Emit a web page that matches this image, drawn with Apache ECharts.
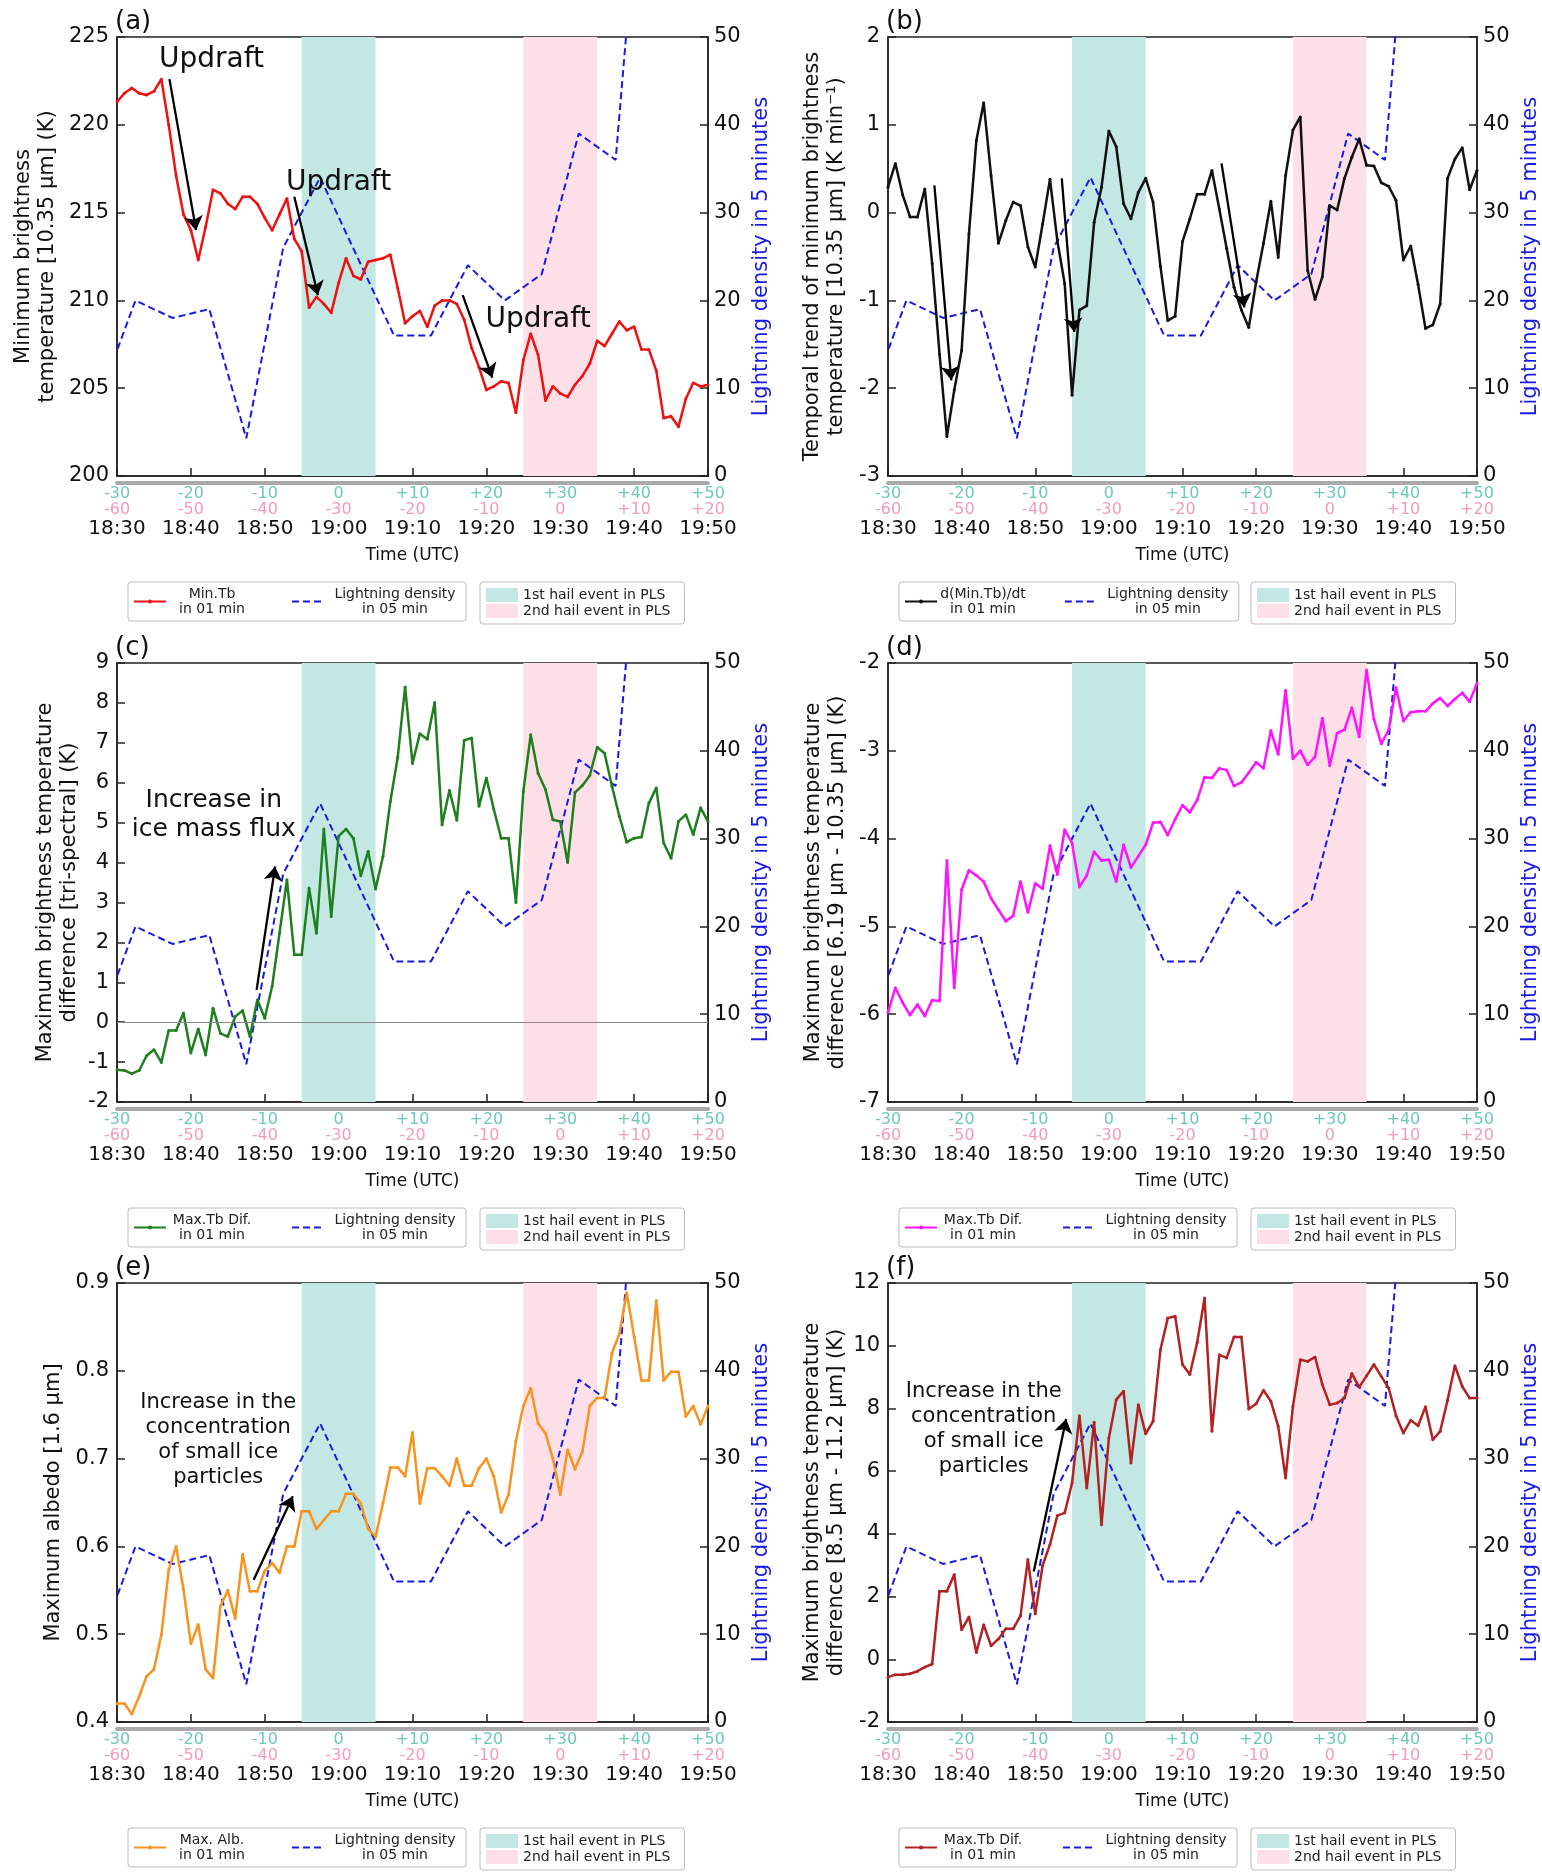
<!DOCTYPE html>
<html>
<head>
<meta charset="utf-8">
<script src="https://cdn.jsdelivr.net/npm/echarts@6/dist/echarts.min.js"></script>
<style>
  html, body { margin: 0; padding: 0; background: #fff; }
  #main { width: 1542px; height: 1872px; }
</style>
</head>
<body>
<div id="main"></div>
<script>
"use strict";

// minutes after 18:30, one sample per minute
const minutes = Array.from({ length: 81 }, (_, i) => i);

const minTb = [
  221.3, 221.8, 222.1, 221.8, 221.7, 221.9, 222.6, 220.0, 217.1, 214.9,
  214.0, 212.3, 214.2, 216.3, 216.1, 215.5, 215.2, 215.9, 215.9, 215.5,
  214.7, 214.0, 214.9, 215.8, 213.5, 212.8, 209.6, 210.2, 209.8, 209.3,
  211.0, 212.4, 211.4, 211.2, 212.2, 212.3, 212.4, 212.6, 210.7, 208.7,
  209.1, 209.4, 208.5, 209.7, 210.0, 210.0, 209.8, 208.9, 207.3, 206.2,
  204.9, 205.1, 205.4, 205.3, 203.6, 206.6, 208.1, 206.9, 204.3, 205.1,
  204.7, 204.5, 205.2, 205.7, 206.4, 207.7, 207.4, 208.1, 208.8, 208.3,
  208.5, 207.2, 207.2, 206.0, 203.3, 203.4, 202.8, 204.4, 205.3, 205.1,
  205.2
];

const dMinTb = [
  0.29, 0.56, 0.20, -0.05, -0.05, 0.27, -0.58, -1.61, -2.55, -2.02,
  -1.57, -0.24, 0.82, 1.25, 0.42, -0.35, -0.09, 0.12, 0.08, -0.39,
  -0.62, -0.13, 0.38, -0.32, -0.81, -2.08, -1.11, -1.06, -0.11, 0.29,
  0.93, 0.75, 0.10, -0.07, 0.23, 0.39, 0.12, -0.61, -1.23, -1.18,
  -0.33, -0.07, 0.21, 0.21, 0.48, 0.04, -0.41, -0.85, -1.11, -1.31,
  -0.79, -0.35, 0.13, -0.51, 0.42, 0.94, 1.09, -0.66, -0.99, -0.73,
  0.08, 0.03, 0.39, 0.63, 0.84, 0.54, 0.53, 0.34, 0.30, 0.14,
  -0.54, -0.38, -0.82, -1.32, -1.28, -1.04, 0.39, 0.61, 0.74, 0.26,
  0.48
];

const triDiff = [
  -1.19, -1.21, -1.29, -1.21, -0.84, -0.69, -1.01, -0.21, -0.21, 0.23,
  -0.77, -0.17, -0.82, 0.35, -0.28, -0.36, 0.14, 0.29, -0.36, 0.56,
  0.10, 0.90, 2.23, 3.57, 1.69, 1.69, 3.36, 2.23, 4.84, 2.65,
  4.66, 4.84, 4.61, 3.67, 4.28, 3.34, 4.15, 5.53, 6.64, 8.40,
  6.48, 7.23, 7.09, 8.01, 4.95, 5.81, 5.06, 7.06, 7.12, 5.41,
  6.12, 5.34, 4.61, 4.61, 3.00, 5.78, 7.20, 6.24, 5.83, 5.07,
  5.03, 4.00, 5.76, 5.93, 6.18, 6.89, 6.74, 5.91, 5.16, 4.51,
  4.61, 4.64, 5.49, 5.87, 4.49, 4.11, 5.03, 5.20, 4.70, 5.37,
  5.03
];

const wvDiff = [
  -5.98, -5.70, -5.87, -6.01, -5.89, -6.02, -5.84, -5.85, -4.25, -5.70,
  -4.58, -4.36, -4.42, -4.49, -4.68, -4.81, -4.94, -4.88, -4.49, -4.84,
  -4.51, -4.57, -4.08, -4.41, -3.90, -4.05, -4.55, -4.42, -4.15, -4.25,
  -4.24, -4.49, -4.07, -4.33, -4.20, -4.07, -3.82, -3.81, -3.96, -3.78,
  -3.62, -3.70, -3.56, -3.30, -3.31, -3.20, -3.22, -3.40, -3.36, -3.25,
  -3.13, -3.20, -2.77, -3.04, -2.31, -3.09, -3.00, -3.16, -3.07, -2.63,
  -3.17, -2.80, -2.76, -2.51, -2.84, -2.08, -2.64, -2.92, -2.76, -2.28,
  -2.66, -2.56, -2.55, -2.55, -2.46, -2.40, -2.49, -2.41, -2.34, -2.44,
  -2.23
];

const maxAlb = [
  0.421, 0.421, 0.409, 0.429, 0.452, 0.460, 0.499, 0.573, 0.600, 0.551,
  0.489, 0.511, 0.460, 0.450, 0.532, 0.550, 0.518, 0.591, 0.549, 0.549,
  0.572, 0.581, 0.570, 0.600, 0.600, 0.640, 0.640, 0.620, 0.630, 0.640,
  0.640, 0.660, 0.660, 0.649, 0.620, 0.611, 0.649, 0.690, 0.690, 0.680,
  0.730, 0.649, 0.689, 0.689, 0.680, 0.669, 0.700, 0.669, 0.669, 0.689,
  0.700, 0.680, 0.639, 0.659, 0.720, 0.760, 0.780, 0.740, 0.729, 0.700,
  0.659, 0.710, 0.688, 0.708, 0.760, 0.769, 0.769, 0.820, 0.842, 0.889,
  0.839, 0.789, 0.789, 0.880, 0.789, 0.799, 0.799, 0.748, 0.760, 0.739,
  0.760
];

const btdDiff = [
  -0.57, -0.49, -0.49, -0.46, -0.38, -0.25, -0.15, 2.17, 2.17, 2.70,
  0.94, 1.35, 0.22, 1.10, 0.43, 0.65, 0.97, 0.97, 1.39, 3.18,
  1.45, 2.99, 3.66, 4.58, 4.67, 5.62, 7.77, 5.46, 7.56, 4.29,
  7.06, 8.28, 8.55, 6.26, 8.12, 7.19, 7.59, 9.87, 10.88, 10.94,
  9.40, 9.08, 10.11, 11.52, 7.27, 9.71, 9.61, 10.28, 10.28, 7.98,
  8.15, 8.58, 8.23, 7.43, 5.78, 8.07, 9.55, 9.50, 9.64, 8.76,
  8.12, 8.17, 8.33, 9.11, 8.68, 9.04, 9.40, 9.02, 8.65, 7.77,
  7.22, 7.62, 7.45, 8.05, 7.00, 7.27, 8.26, 9.36, 8.70, 8.33,
  8.33
];

// lightning density, 5-min bins (bin centres in minutes after 18:30)
const lightningMin = [-2.5, 2.5, 7.5, 12.5, 17.5, 22.5, 27.5, 32.5, 37.5, 42.5, 47.5, 52.5, 57.5, 62.5, 67.5, 72.5];
const lightningDensity = [8.6, 20, 18, 19, 4.3, 26, 34, 25, 16, 16, 24, 20, 23, 39, 36, 86];

// hail events in PLS (minutes after 18:30)
const hail1 = [25, 35];
const hail2 = [55, 65];

// x tick labels
const cyanLabels = ['-30', '-20', '-10', '0', '+10', '+20', '+30', '+40', '+50'];
const pinkLabels = ['-60', '-50', '-40', '-30', '-20', '-10', '0', '+10', '+20'];
const timeLabels = ['18:30', '18:40', '18:50', '19:00', '19:10', '19:20', '19:30', '19:40', '19:50'];

const panels = [
  {
    tag: '(a)', key: 'a_main', label: ['Min.Tb', 'in 01 min'], values: minTb, color: '#ee1111',
    min: 200, max: 225, step: 5, nameGap: 57,
    yName: 'Minimum brightness\ntemperature [10.35 μm] (K)',
    arrows: [[[7.1, 222.6], [10.7, 214.0]], [[24.0, 215.9], [27.2, 210.3]], [[46.8, 210.3], [50.8, 205.6]]],
    notes: [
      { at: [12.8, 223.7], text: 'Updraft', size: 28, lh: 30 },
      { at: [30.0, 216.7], text: 'Updraft', size: 28, lh: 30 },
      { at: [57.0, 208.9], text: 'Updraft', size: 28, lh: 30 },
    ],
  },
  {
    tag: '(b)', key: 'b_main', label: ['d(Min.Tb)/dt', 'in 01 min'], values: dMinTb, color: '#111111',
    min: -3, max: 2, step: 1, nameGap: 39,
    yName: 'Temporal trend of minimum brightness\ntemperature [10.35 μm] (K min⁻¹)',
    arrows: [[[6.3, 0.31], [8.6, -1.91]], [[23.6, 0.39], [25.3, -1.36]], [[45.3, 0.56], [48.4, -1.08]]],
    notes: [],
  },
  {
    tag: '(c)', key: 'c_main', label: ['Max.Tb Dif.', 'in 01 min'], values: triDiff, color: '#1f7f1f',
    min: -2, max: 9, step: 1, nameGap: 35, zero: true,
    yName: 'Maximum brightness temperature\ndifference [tri-spectral] (K)',
    arrows: [[[18.9, 0.81], [21.4, 3.9]]],
    notes: [{ at: [13.1, 5.19], text: 'Increase in\nice mass flux', size: 25, lh: 29 }],
  },
  {
    tag: '(d)', key: 'd_main', label: ['Max.Tb Dif.', 'in 01 min'], values: wvDiff, color: '#ff14ff',
    min: -7, max: -2, step: 1, nameGap: 38,
    yName: 'Maximum brightness temperature\ndifference [6.19 μm - 10.35 μm] (K)',
    arrows: [],
    notes: [],
  },
  {
    tag: '(e)', key: 'e_main', label: ['Max. Alb.', 'in 01 min'], values: maxAlb, color: '#f7931e',
    min: 0.4, max: 0.9, step: 0.1, nameGap: 51, digits: 1,
    yName: 'Maximum albedo [1.6 μm]',
    arrows: [[[18.5, 0.562], [23.8, 0.657]]],
    notes: [{ at: [13.7, 0.7216], text: 'Increase in the\nconcentration\nof small ice\nparticles', size: 21, lh: 25 }],
  },
  {
    tag: '(f)', key: 'f_main', label: ['Max.Tb Dif.', 'in 01 min'], values: btdDiff, color: '#b22222',
    min: -2, max: 12, step: 2, nameGap: 39,
    yName: 'Maximum brightness temperature\ndifference [8.5 μm - 11.2 μm] (K)',
    arrows: [[[19.8, 2.8], [24.2, 7.66]]],
    notes: [{ at: [13.0, 7.35], text: 'Increase in the\nconcentration\nof small ice\nparticles', size: 21, lh: 25 }],
  },
];

const legendText = {
  lightning: ['Lightning density', 'in 05 min'],
  hail1: '1st hail event in PLS',
  hail2: '2nd hail event in PLS',
};
panels.forEach(p => { legendText[p.key] = p.label; });

const cols = [117, 888];
const rows = [37, 663, 1283];
const W = 591, H = 439;
const FONT = 'DejaVu Sans';

const option = {
  animation: false,
  backgroundColor: '#fff',
  textStyle: { fontFamily: FONT },
  title: [], grid: [], xAxis: [], yAxis: [], legend: [], series: [],
};

panels.forEach((p, i) => {
  const left = cols[i % 2];
  const top = rows[Math.floor(i / 2)];

  option.grid.push({
    left: left, top: top, width: W, height: H,
    show: true, borderColor: '#222', borderWidth: 1.5,
  });

  option.title.push({
    text: p.tag, left: left - 2, top: top - 28, padding: 0,
    textStyle: { fontSize: 26, fontWeight: 'normal', color: '#111', fontFamily: FONT },
  });

  // time axis with three label rows
  option.xAxis.push({
    type: 'value', gridIndex: i, min: 0, max: 80, interval: 10, position: 'bottom',
    name: 'Time (UTC)', nameLocation: 'middle', nameGap: 71,
    nameTextStyle: { fontSize: 17, color: '#111' },
    axisLine: { show: true, onZero: false, lineStyle: { color: '#222', width: 1.5 } },
    axisTick: { show: true, inside: true, length: 8, lineStyle: { color: '#222', width: 1.5 } },
    splitLine: { show: false },
    axisLabel: {
      margin: 10,
      formatter: v => {
        const k = Math.round(v / 10);
        return '{c|' + cyanLabels[k] + '}\n{p|' + pinkLabels[k] + '}\n{t|' + timeLabels[k] + '}';
      },
      rich: {
        c: { color: '#6cc9b9', fontSize: 16, lineHeight: 16, fontFamily: FONT },
        p: { color: '#f39bbd', fontSize: 16, lineHeight: 16, fontFamily: FONT },
        t: { color: '#111', fontSize: 20, lineHeight: 21, fontFamily: FONT },
      },
    },
  });
  // grey bar under the axis
  option.xAxis.push({
    type: 'value', gridIndex: i, min: 0, max: 80, position: 'bottom', offset: 7,
    axisLine: { show: true, onZero: false, lineStyle: { color: '#aaa', width: 4 } },
    axisTick: { show: false }, axisLabel: { show: false }, splitLine: { show: false },
  });

  option.yAxis.push({
    type: 'value', gridIndex: i, min: p.min, max: p.max, interval: p.step, position: 'left',
    name: p.yName, nameLocation: 'middle', nameRotate: 90, nameGap: p.nameGap,
    nameTextStyle: { fontSize: 21, lineHeight: 24, color: '#111', align: 'center' },
    axisLine: { show: true, onZero: false, lineStyle: { color: '#222', width: 1.5 } },
    axisTick: { show: true, inside: true, length: 8, lineStyle: { color: '#222', width: 1.5 } },
    splitLine: { show: false },
    axisLabel: {
      fontSize: 21, color: '#111', margin: 8,
      formatter: v => (p.digits ? v.toFixed(p.digits) : String(Math.round(v))),
    },
  });
  option.yAxis.push({
    type: 'value', gridIndex: i, min: 0, max: 50, interval: 10, position: 'right',
    name: 'Lightning density in 5 minutes', nameLocation: 'middle', nameRotate: 90, nameGap: 43,
    nameTextStyle: { fontSize: 21, color: '#1a1ae6' },
    axisLine: { show: true, onZero: false, lineStyle: { color: '#222', width: 1.5 } },
    axisTick: { show: true, inside: true, length: 8, lineStyle: { color: '#222', width: 1.5 } },
    splitLine: { show: false },
    axisLabel: { fontSize: 21, color: '#111', margin: 6 },
  });

  // hail event shading
  [['hail1', hail1, '#c3e8e4'], ['hail2', hail2, '#fde0e7']].forEach(([name, span, col]) => {
    option.series.push({
      name: name, type: 'line', xAxisIndex: 2 * i, yAxisIndex: 2 * i, data: [],
      z: 1, silent: true,
      itemStyle: { color: col }, lineStyle: { color: col },
      markArea: {
        silent: true,
        itemStyle: { color: col, opacity: 1 },
        data: [[{ xAxis: span[0] }, { xAxis: span[1] }]],
      },
    });
  });

  const markLines = p.arrows.map(([s, e]) => [
    { coord: s, symbol: 'none' },
    { coord: e, symbol: 'arrow', symbolSize: 14 },
  ]);
  if (p.zero) {
    markLines.push({ yAxis: 0, lineStyle: { color: '#888', width: 1, type: 'solid' } });
  }

  option.series.push({
    name: 'lightning', type: 'line', xAxisIndex: 2 * i, yAxisIndex: 2 * i + 1,
    data: lightningMin.map((m, k) => [m, lightningDensity[k]]),
    showSymbol: false, symbol: 'none', z: 3,
    itemStyle: { color: '#1a1ae0' },
    lineStyle: { color: '#1a1ae0', width: 2, type: [7, 4] },
  });

  option.series.push({
    name: p.key, type: 'line', xAxisIndex: 2 * i, yAxisIndex: 2 * i,
    data: minutes.map((m, k) => [m, p.values[k]]),
    symbol: 'circle', symbolSize: 3, showSymbol: true, z: 4,
    itemStyle: { color: p.color }, lineStyle: { color: p.color, width: 2.5 },
    markLine: {
      silent: true, symbol: ['none', 'none'],
      label: { show: false },
      lineStyle: { color: '#000', width: 2.3, type: 'solid' },
      data: markLines,
    },
    markPoint: {
      silent: true, symbol: 'circle', symbolSize: 0,
      data: p.notes.map(n => ({
        coord: n.at, name: n.text,
        label: { fontSize: n.size, lineHeight: n.lh },
      })),
      label: { show: true, position: 'inside', formatter: '{b}', color: '#111', fontFamily: FONT, align: 'center' },
    },
  });

  const boxStyle = {
    borderColor: '#bbb', borderWidth: 1, borderRadius: 3, backgroundColor: '#fff',
    selectedMode: false,
  };
  option.legend.push(Object.assign({}, boxStyle, {
    left: left + 11, top: top + 545, orient: 'horizontal',
    padding: [5, 5], itemGap: 38, itemWidth: 32, itemHeight: 5,
    data: [p.key, { name: 'lightning', itemStyle: { opacity: 0 } }],
    formatter: name => {
      const style = name === 'lightning' ? 'l' : 'm';
      const t = legendText[name];
      return '{' + style + '|' + t[0] + '}\n{' + style + '|' + t[1] + '}';
    },
    textStyle: {
      rich: {
        m: { width: 82, align: 'center', fontSize: 14, lineHeight: 15, color: '#222', fontFamily: FONT },
        l: { width: 132, align: 'center', fontSize: 14, lineHeight: 15, color: '#222', fontFamily: FONT },
      },
    },
  }));
  option.legend.push(Object.assign({}, boxStyle, {
    left: left + 363, top: top + 545, orient: 'vertical',
    padding: [6, 14, 6, 6], itemGap: 2, itemWidth: 32, itemHeight: 14, icon: 'rect',
    data: ['hail1', 'hail2'],
    formatter: name => legendText[name],
    textStyle: { fontSize: 14, color: '#222', fontFamily: FONT },
  }));
});

const chart = echarts.init(document.getElementById('main'));
chart.setOption(option);
</script>
</body>
</html>
